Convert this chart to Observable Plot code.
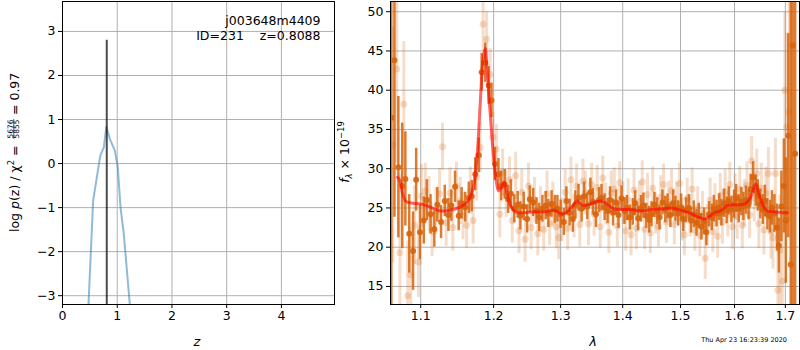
<!DOCTYPE html>
<html><head><meta charset="utf-8">
<script src="https://cdn.jsdelivr.net/npm/d3@7"></script>
<script src="https://cdn.jsdelivr.net/npm/@observablehq/plot@0.6"></script>
<style>
body{margin:0;background:#fff;}
#wrap{position:relative;width:800px;height:350px;font-family:"DejaVu Sans",sans-serif;}
#left,#right{position:absolute;top:0;}
#left{left:0;} #right{left:340px;}
</style></head><body><div id="wrap"><div id="left"></div><div id="right"></div></div>
<script>
// ---------- left panel data: log p(z) ----------
const zTicks = [0, 1, 2, 3, 4];
const logpTicks = [-3, -2, -1, 0, 1, 2, 3];
const pzZ    = [0.45, 0.475, 0.56, 0.69, 0.755, 0.80, 0.865, 0.955, 1.01, 1.06, 1.12, 1.23, 1.26];
const pzLogp = [-4.5, -3.2, -0.84, 0.18, 0.37, 0.83, 0.56, 0.30, -0.08, -0.99, -1.6, -3.2, -4.5];
const bestZ = [0.8088];
const bestTop = [2.8];
const objName = "j003648m4409";
const objInfo = "ID=231    z=0.8088";

// ---------- right panel data: spectrum ----------
const waveTicks = [1.1, 1.2, 1.3, 1.4, 1.5, 1.6, 1.7];
const fluxTicks = [15, 20, 25, 30, 35, 40, 45, 50];

const darkWave = [
 1.062,1.066,1.071,1.076,1.080,1.085,1.090,1.094,1.099,1.104,
 1.108,1.113,1.118,1.122,1.127,1.132,1.137,1.141,1.146,1.151,
 1.155,1.160,1.165,1.169,1.174,1.179,1.183,1.188,1.193,1.197,
 1.202,1.207,1.211,1.216,1.221,1.225,1.230,1.235,1.239,1.244,
 1.249,1.253,1.258,1.263,1.267,1.272,1.277,1.281,1.286,1.291,
 1.295,1.300,1.305,1.309,1.314,1.319,1.323,1.328,1.333,1.337,
 1.342,1.347,1.351,1.356,1.361,1.365,1.370,1.375,1.379,1.384,
 1.389,1.393,1.398,1.403,1.407,1.412,1.417,1.421,1.426,1.431,
 1.435,1.440,1.445,1.449,1.454,1.459,1.463,1.468,1.473,1.477,
 1.482,1.487,1.491,1.496,1.501,1.505,1.510,1.515,1.519,1.524,
 1.529,1.533,1.538,1.543,1.547,1.552,1.557,1.561,1.566,1.571,
 1.575,1.580,1.585,1.589,1.594,1.599,1.603,1.608,1.613,1.617,
 1.622,1.627,1.631,1.636,1.641,1.645,1.650,1.655,1.659,1.664,
 1.669,1.673,1.678,1.683,1.687,1.692,1.697,1.701,1.706,1.711,
 1.715,1.720];
const darkFlux = [
 36.5,43.8,30.2,27.8,28.7,21.7,19.5,28.6,21.9,23.4,
 26.0,24.2,22.3,25.4,23.2,25.9,24.1,25.3,27.7,24.0,
 25.6,25.1,26.3,26.5,29.3,31.7,42.3,43.5,40.6,38.7,
 30.6,29.3,27.8,28.0,26.1,26.8,24.9,25.4,24.0,25.2,
 23.6,26.1,25.7,24.6,23.8,24.9,25.3,24.3,25.5,24.8,
 24.9,24.2,23.2,25.9,24.4,23.6,25.4,26.3,24.9,26.5,
 25.2,27.0,25.8,24.2,26.0,26.3,25.1,24.6,26.0,24.4,
 25.7,24.1,26.2,24.6,25.0,23.8,24.5,25.6,23.7,24.9,
 25.3,24.0,23.5,24.2,25.4,24.6,23.8,25.7,24.8,25.2,
 24.1,25.6,24.9,24.3,25.1,23.6,24.7,25.0,23.4,24.2,
 23.1,24.0,22.6,23.3,21.9,24.2,23.8,24.9,24.3,25.1,
 24.4,25.6,24.7,25.9,24.8,25.5,26.2,24.9,25.8,25.2,
 26.0,25.4,27.4,28.9,27.2,26.6,25.5,24.8,25.9,24.2,
 23.9,25.0,24.3,22.5,20.2,25.2,27.8,23.4,34.2,17.8,
 45.7,31.9];
const darkErr = [
 25,20,9,8,6,5,5,4,3.5,3,
 2.6,2.5,2.3,2.2,2.1,2.0,2.1,2.0,2.0,1.9,
 2.0,1.9,2.0,2.0,2.1,2.2,2.4,2.5,2.4,2.2,
 2.1,2.0,1.9,1.9,1.8,1.8,1.8,1.7,1.8,1.8,
 1.8,1.7,1.8,1.7,1.8,1.7,1.8,1.8,1.7,1.8,
 1.7,1.8,1.7,1.8,1.7,1.7,1.8,1.7,1.7,1.8,
 1.7,1.8,1.7,1.7,1.6,1.7,1.7,1.6,1.7,1.7,
 1.6,1.7,1.6,1.7,1.6,1.6,1.7,1.6,1.6,1.7,
 1.6,1.6,1.7,1.6,1.6,1.7,1.6,1.6,1.7,1.6,
 1.6,1.7,1.6,1.6,1.7,1.6,1.6,1.7,1.6,1.7,
 1.7,1.6,1.7,1.7,1.7,1.6,1.7,1.7,1.7,1.7,
 1.7,1.8,1.7,1.8,1.7,1.8,1.8,1.8,1.8,1.8,
 1.8,1.9,1.9,2.0,2.0,2.0,1.9,1.9,2.0,2.0,
 2.1,2.2,2.4,3.0,3.5,4.5,6.0,8.0,13,40,
 40,20];

const faintWave = [
 1.064,1.069,1.073,1.078,1.083,1.087,1.092,1.097,1.101,1.106,
 1.111,1.115,1.120,1.125,1.129,1.134,1.139,1.143,1.148,1.153,
 1.157,1.162,1.167,1.171,1.176,1.181,1.185,1.190,1.195,1.199,
 1.204,1.209,1.213,1.218,1.223,1.227,1.232,1.237,1.241,1.246,
 1.251,1.255,1.260,1.265,1.269,1.274,1.279,1.283,1.288,1.293,
 1.297,1.302,1.307,1.311,1.316,1.321,1.325,1.330,1.335,1.339,
 1.344,1.349,1.353,1.358,1.363,1.367,1.372,1.377,1.381,1.386,
 1.391,1.395,1.400,1.405,1.409,1.414,1.419,1.423,1.428,1.433,
 1.437,1.442,1.447,1.451,1.456,1.461,1.465,1.470,1.475,1.479,
 1.484,1.489,1.493,1.498,1.503,1.507,1.512,1.517,1.521,1.526,
 1.531,1.535,1.540,1.545,1.549,1.554,1.559,1.563,1.568,1.573,
 1.577,1.582,1.587,1.591,1.596,1.601,1.605,1.610,1.615,1.619,
 1.624,1.629,1.633,1.638,1.643,1.647,1.652,1.657,1.661,1.666,
 1.671,1.675,1.680,1.685,1.689,1.694,1.699,1.703,1.708];
const faintFlux = [
 33.0,42.7,19.3,38.2,13.8,16.5,22.8,18.1,26.5,27.2,
 25.5,22.0,24.6,26.8,32.8,23.1,26.9,22.5,27.8,25.9,
 24.0,22.8,27.2,23.4,28.9,32.7,48.4,46.5,42.0,34.0,
 32.5,24.2,29.5,26.8,28.6,23.4,29.1,22.1,27.0,21.0,
 27.8,22.5,26.0,21.7,24.8,22.3,26.8,23.0,25.5,22.6,
 21.2,23.5,27.0,22.4,28.6,24.0,27.8,22.9,28.4,26.9,
 23.0,28.0,24.2,27.6,22.6,28.8,25.5,21.9,26.9,27.4,
 22.7,28.2,25.6,22.1,26.0,21.6,27.3,22.4,25.8,28.3,
 22.3,26.7,21.8,27.5,24.3,22.6,26.4,28.0,23.2,25.8,
 27.2,22.9,25.6,28.1,23.5,21.6,26.2,24.0,27.4,22.2,
 25.0,21.5,24.3,18.6,22.8,26.0,22.0,25.3,21.4,26.6,
 23.2,27.1,24.2,28.0,22.6,26.4,23.9,27.4,22.8,25.6,
 27.9,24.1,31.0,26.3,29.4,23.0,27.5,22.2,26.9,29.4,
 22.0,21.2,29.4,14.5,19.6,15.7,40.0,35.3,37.2];
const faintErr = [
 15,12,10,8,7,6,5,4.5,4,3.5,
 3.5,3.2,3.0,3.2,3.0,3.0,3.2,3.0,3.0,3.0,
 3.0,3.0,3.0,3.0,3.0,3.2,3.5,3.5,3.3,3.2,
 3.1,3.0,3.0,3.0,2.9,2.9,3.0,2.9,2.9,2.9,
 2.9,2.8,2.9,2.8,2.9,2.8,2.9,2.8,2.8,2.8,
 2.8,2.8,2.9,2.8,2.9,2.8,2.8,2.9,2.8,2.8,
 2.8,2.7,2.8,2.8,2.7,2.8,2.7,2.7,2.8,2.7,
 2.7,2.7,2.7,2.6,2.7,2.7,2.6,2.7,2.6,2.7,
 2.6,2.7,2.6,2.7,2.6,2.6,2.7,2.6,2.7,2.6,
 2.7,2.6,2.7,2.6,2.7,2.7,2.6,2.7,2.7,2.7,
 2.7,2.7,2.8,2.7,2.7,2.8,2.7,2.8,2.8,2.8,
 2.8,2.8,2.9,2.8,2.9,2.9,2.9,2.9,3.0,3.0,
 3.0,3.0,3.1,3.1,3.1,3.2,3.2,3.2,3.3,3.3,
 3.5,4,4.5,5.5,7,8,10,12,14];

const modelWave = [1.070,1.073,1.077,1.081,1.090,1.100,1.110,1.120,1.128,1.138,1.147,1.155,1.163,1.168,1.172,1.176,1.179,1.182,1.185,1.188,1.190,1.193,1.196,1.200,1.204,1.207,1.210,1.215,1.219,1.224,1.229,1.236,1.245,1.260,1.275,1.289,1.296,1.302,1.310,1.318,1.326,1.331,1.337,1.350,1.363,1.372,1.385,1.400,1.415,1.430,1.450,1.471,1.485,1.500,1.515,1.530,1.543,1.552,1.562,1.575,1.586,1.600,1.619,1.628,1.634,1.639,1.642,1.647,1.652,1.658,1.665,1.680,1.695,1.704];
const modelFlux = [28.9,28.5,26.6,25.8,25.6,25.5,25.2,24.8,24.6,24.7,24.9,25.2,25.8,26.6,28.0,31.0,35.0,40.0,44.0,45.3,43.5,39.5,36.0,31.4,28.3,27.2,27.4,28.3,27.0,25.4,24.7,24.4,24.4,24.5,24.5,24.7,24.5,24.2,24.5,25.2,25.9,25.5,25.3,25.6,25.9,25.6,24.9,24.8,24.8,24.6,24.8,24.9,25.0,24.7,24.4,23.9,23.6,23.9,24.4,24.7,25.3,25.4,25.5,26.0,26.8,27.9,28.0,26.8,25.9,25.0,24.6,24.5,24.4,24.4];
const timestamp = "Thu Apr 23 16:23:39 2020";

// ---------- build tables ----------
const pz = pzZ.map((z, i) => ({z, logp: pzLogp[i]}));
const best = bestZ.map((z, i) => ({z, top: bestTop[i]}));
const dark = darkWave.map((w, i) => ({w, f: darkFlux[i], e: darkErr[i]}));
const faint = faintWave.map((w, i) => ({w, f: faintFlux[i], e: faintErr[i]}));
const model = modelWave.map((w, i) => ({w, f: modelFlux[i]}));

const minus = d => d < 0 ? "\u2212" + Math.abs(d) : String(d);
const FONT = {fontFamily: "DejaVu Sans", fontSize: "12.5px", background: "transparent", overflow: "visible", color: "black"};
const GRID = {stroke: "#b0b0b0", strokeOpacity: 1, strokeWidth: 1};
const ORANGE = "#d7640c";

const yLo = -3.2, yHi = 3.68;
const leftPlot = Plot.plot({
  width: 340, height: 350, marginLeft: 62, marginRight: 6, marginTop: 1, marginBottom: 46,
  style: FONT,
  x: {domain: [0, 4.97], ticks: zTicks, tickFormat: minus, label: null, tickSize: 4, tickPadding: 3},
  y: {domain: [yLo, yHi], ticks: logpTicks, tickFormat: minus, label: null, tickSize: 4, tickPadding: 3},
  marks: [
    Plot.gridX(zTicks, GRID),
    Plot.gridY(logpTicks, GRID),
    Plot.line(pz, {x: "z", y: "logp", stroke: "#1f77b4", strokeOpacity: 0.5, strokeWidth: 2, clip: true}),
    Plot.ruleX(best, {x: "z", y1: yLo, y2: "top", stroke: "black", strokeOpacity: 0.7, strokeWidth: 2}),
    Plot.text([objName], {text: d => d, frameAnchor: "top-right", dx: -14, dy: 19, lineAnchor: "middle", fontSize: 12.5}),
    Plot.text([objInfo], {text: d => d, frameAnchor: "top-right", dx: -14, dy: 34, lineAnchor: "middle", fontSize: 12.5}),
    Plot.frame({stroke: "black", strokeWidth: 1})
  ]
});
document.getElementById("left").appendChild(leftPlot);

const rightPlot = Plot.plot({
  width: 460, height: 350, marginLeft: 50, marginRight: 1, marginTop: 1, marginBottom: 46,
  style: FONT,
  x: {type: "log", domain: [1.061, 1.729], ticks: waveTicks, tickFormat: d => d.toFixed(1), label: null, tickSize: 4, tickPadding: 3},
  y: {domain: [12.7, 51.3], ticks: fluxTicks, label: null, tickSize: 4, tickPadding: 3},
  marks: [
    Plot.gridX(waveTicks, GRID),
    Plot.gridY(fluxTicks, GRID),
    Plot.ruleX(faint, {x: "w", y1: d => d.f - d.e, y2: d => d.f + d.e, stroke: ORANGE, strokeOpacity: 0.22, strokeWidth: 3, clip: true}),
    Plot.dot(faint, {x: "w", y: "f", r: 3.5, fill: ORANGE, fillOpacity: 0.22, clip: true}),
    Plot.ruleX(dark, {x: "w", y1: d => d.f - d.e, y2: d => d.f + d.e, stroke: ORANGE, strokeOpacity: 0.85, strokeWidth: 2.5, clip: true}),
    Plot.dot(dark, {x: "w", y: "f", r: 3, fill: ORANGE, fillOpacity: 0.9, clip: true}),
    Plot.line(model, {x: "w", y: "f", stroke: "red", strokeOpacity: 0.6, strokeWidth: 3, curve: "catmull-rom", clip: true}),
    Plot.frame({stroke: "black", strokeWidth: 1})
  ]
});
document.getElementById("right").appendChild(rightPlot);

// ---------- axis labels ----------
const ls = d3.select(leftPlot);
ls.append("text").attr("x", 197).attr("y", 346).attr("text-anchor", "middle")
  .attr("font-style", "italic").attr("font-size", 13).text("z");
const g = ls.append("g").attr("transform", "translate(19,232) rotate(-90)").attr("font-size", 12.5);
const t1 = g.append("text").attr("x", 0).attr("y", 0).attr("text-anchor", "start");
t1.append("tspan").text("log ");
t1.append("tspan").attr("font-style", "italic").text("p");
t1.append("tspan").text("(z) / \u03c7");
t1.append("tspan").attr("font-size", 8.5).attr("dy", -5).text("2");
t1.append("tspan").attr("dy", 5).text(" =");
g.append("text").attr("x", 103).attr("y", -6).attr("text-anchor", "middle").attr("font-size", 7.5).text("5676");
g.append("line").attr("x1", 93).attr("x2", 113).attr("y1", -5.2).attr("y2", -5.2).attr("stroke", "black").attr("stroke-width", 0.6);
g.append("text").attr("x", 103).attr("y", 0.4).attr("text-anchor", "middle").attr("font-size", 7.5).text("5855");
g.append("text").attr("x", 117).attr("y", 0).attr("text-anchor", "start").text("= 0.97");

const rs = d3.select(rightPlot);
rs.append("text").attr("x", 253).attr("y", 346).attr("text-anchor", "middle")
  .attr("font-style", "italic").attr("font-size", 13).text("\u03bb");
const g2 = rs.append("g").attr("transform", "translate(9,152) rotate(-90)").attr("font-size", 12.5);
const t2 = g2.append("text").attr("x", 0).attr("y", 0).attr("text-anchor", "middle");
t2.append("tspan").attr("font-style", "italic").text("f");
t2.append("tspan").attr("font-size", 8.5).attr("dy", 3).attr("font-style", "italic").text("\u03bb");
t2.append("tspan").attr("dy", -3).text(" \u00d7 10");
t2.append("tspan").attr("font-size", 8.5).attr("dy", -5).text("\u221219");
rs.append("text").attr("x", 447).attr("y", 342).attr("text-anchor", "end").attr("font-size", 6.5).text(timestamp);
</script></body></html>
